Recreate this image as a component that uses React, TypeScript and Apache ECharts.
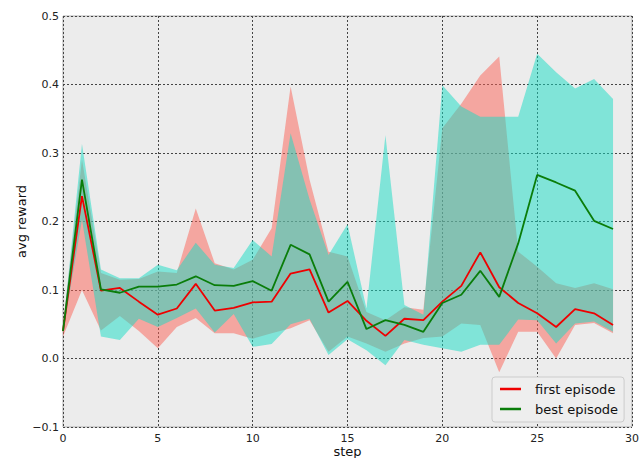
import React, { useEffect, useRef } from 'react';
import * as echarts from 'echarts';

// x axis: steps 0..30 (data at steps 0..29)
const stepCategories = Array.from({ length: 31 }, (_, i) => String(i));

const firstMean = [0.04, 0.237, 0.099, 0.103, 0.083, 0.064, 0.073, 0.109, 0.070, 0.074, 0.082, 0.083, 0.124, 0.130, 0.067, 0.084, 0.055, 0.033, 0.058, 0.056, 0.083, 0.106, 0.155, 0.104, 0.081, 0.066, 0.046, 0.072, 0.066, 0.049];
const bestMean = [0.04, 0.261, 0.101, 0.096, 0.105, 0.105, 0.108, 0.120, 0.107, 0.106, 0.113, 0.099, 0.166, 0.152, 0.083, 0.112, 0.043, 0.056, 0.049, 0.039, 0.081, 0.093, 0.128, 0.090, 0.168, 0.268, 0.257, 0.245, 0.201, 0.189];

const firstUpper = [0.05, 0.29, 0.125, 0.115, 0.116, 0.127, 0.125, 0.219, 0.139, 0.130, 0.144, 0.19, 0.397, 0.261, 0.156, 0.149, 0.068, 0.056, 0.075, 0.071, 0.336, 0.372, 0.413, 0.441, 0.156, 0.134, 0.11, 0.103, 0.11, 0.101];
const firstLower = [0.032, 0.100, 0.041, 0.062, 0.040, 0.015, 0.046, 0.059, 0.037, 0.037, 0.029, 0.037, 0.044, 0.056, 0.010, 0.032, 0.022, 0.010, 0.022, 0.030, 0.032, 0.051, 0.049, -0.020, 0.039, 0.039, 0.000, 0.049, 0.052, 0.037];

const bestUpper = [0.045, 0.313, 0.130, 0.117, 0.117, 0.137, 0.129, 0.169, 0.137, 0.132, 0.173, 0.149, 0.329, 0.232, 0.151, 0.196, 0.073, 0.326, 0.078, 0.064, 0.399, 0.368, 0.353, 0.353, 0.353, 0.445, 0.418, 0.394, 0.408, 0.379];
const bestLower = [0.038, 0.203, 0.032, 0.027, 0.058, 0.046, 0.059, 0.073, 0.038, 0.065, 0.017, 0.021, 0.050, 0.058, 0.005, 0.028, 0.012, -0.010, 0.027, 0.020, 0.015, 0.010, 0.020, 0.020, 0.057, 0.056, 0.022, 0.051, 0.054, 0.039];

const FONT = 'DejaVu Sans';

function band(name: string, lower: number[], upper: number[], color: string) {
  const diff = upper.map((u, i) => u - lower[i]);
  return [
    {
      name: name + ' lower',
      type: 'line',
      data: lower,
      stack: name,
      stackStrategy: 'all',
      symbol: 'none',
      silent: true,
      lineStyle: { width: 0, opacity: 0 },
    },
    {
      name: name + ' band',
      type: 'line',
      data: diff,
      stack: name,
      stackStrategy: 'all',
      symbol: 'none',
      silent: true,
      lineStyle: { width: 0, opacity: 0 },
      areaStyle: { color, opacity: 1 },
    },
  ];
}

export default function App() {
  const ref = useRef<HTMLDivElement>(null);
  useEffect(() => {
    document.body.style.margin = '0';
    const chart = echarts.init(ref.current!, null, { renderer: 'svg' });
    chart.setOption({
      animation: false,
      backgroundColor: '#ffffff',
      grid: {
        left: 63,
        right: 11,
        top: 16,
        bottom: 31,
        containLabel: false,
        outerBoundsMode: 'none',
        show: true,
        backgroundColor: '#ececec',
        borderColor: '#b0b0b0',
        borderWidth: 1,
      },
      legend: {
        orient: 'vertical',
        left: 492,
        top: 377,
        data: ['first episode', 'best episode'],
        icon: 'rect',
        itemWidth: 21,
        itemHeight: 2.5,
        itemGap: 6,
        padding: [5, 6, 6, 8],
        backgroundColor: '#eeeeee',
        borderColor: '#cccccc',
        borderWidth: 1,
        borderRadius: 3,
        textStyle: { fontFamily: FONT, fontSize: 13, color: '#111', padding: [0, 0, 0, 9], lineHeight: 14 },
      },
      xAxis: {
        type: 'category',
        data: stepCategories,
        boundaryGap: false,
        name: 'step',
        nameLocation: 'middle',
        nameGap: 18,
        nameMoveOverlap: false,
        nameTextStyle: { fontFamily: FONT, fontSize: 13, color: '#111' },
        axisLine: { show: false },
        axisTick: { show: false },
        axisLabel: { interval: 4, fontFamily: FONT, fontSize: 11, color: '#222', margin: 6 },
        splitLine: { show: true, interval: 4, lineStyle: { color: '#444', type: [2, 2], width: 1 } },
      },
      yAxis: {
        type: 'value',
        min: -0.1,
        max: 0.5,
        interval: 0.1,
        name: 'avg reward',
        nameLocation: 'middle',
        nameGap: 35,
        nameMoveOverlap: false,
        nameRotate: 90,
        nameTextStyle: { fontFamily: FONT, fontSize: 13, color: '#111' },
        axisLine: { show: false },
        axisTick: { show: false },
        axisLabel: {
          fontFamily: FONT,
          fontSize: 11,
          color: '#222',
          margin: 4,
          formatter: (v: number) => v.toFixed(1).replace('-', '\u2212'),
        },
        splitLine: { show: true, lineStyle: { color: '#444', type: [2, 2], width: 1 } },
      },
      series: [
        ...band('first', firstLower, firstUpper, 'rgba(252,96,84,0.5)'),
        ...band('best', bestLower, bestUpper, 'rgba(20,220,196,0.5)'),
        {
          name: 'first episode',
          type: 'line',
          data: firstMean,
          symbol: 'none',
          itemStyle: { color: '#ee0000' },
          lineStyle: { color: '#ee0000', width: 1.8 },
        },
        {
          name: 'best episode',
          type: 'line',
          data: bestMean,
          symbol: 'none',
          itemStyle: { color: '#0a7d0a' },
          lineStyle: { color: '#0a7d0a', width: 1.8 },
        },
      ],
    });
    return () => chart.dispose();
  }, []);
  return <div ref={ref} style={{ width: 643, height: 458 }} />;
}
